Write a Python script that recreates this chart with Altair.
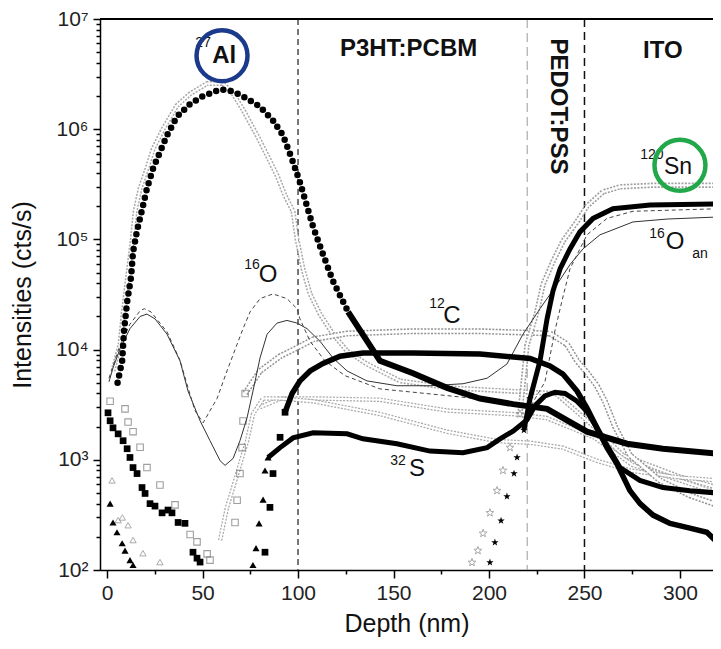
import altair as alt
import pandas as pd

# ---------------- data (depth in nm, intensity in cts/s) ----------------
# 27Al  (filled circles)
al_x = [5.5, 7.9, 8.9, 10.5, 12.6, 13.6, 15.7, 17.8, 20.9, 24.1, 27.7, 31.4, 36.6, 43.5, 50.3,
        59.2, 66.0, 73.3, 80.1, 86.9, 92.1, 96.9, 101.0, 104.7, 107.9, 112.6, 118.3, 126.2,
        136.1, 142.9, 160.2, 178.0, 195.3, 212.6, 230.4, 251.3, 272.3, 291.1, 319.4]
al_y = [5.0e3, 7.9e3, 1.5e4, 2.7e4, 4.6e4, 7.7e4, 1.2e5, 1.7e5, 2.9e5, 4.4e5, 6.2e5, 8.8e5,
        1.3e6, 1.7e6, 2.0e6, 2.3e6, 2.2e6, 1.9e6, 1.6e6, 1.2e6, 8.8e5, 5.3e5, 3.3e5, 2.0e5,
        1.3e5, 7.7e4, 4.2e4, 2.2e4, 1.2e4, 7.9e3, 6.1e3, 4.5e3, 3.6e3, 3.2e3, 2.9e3, 1.8e3,
        1.4e3, 1.26e3, 1.14e3]

# hollow (open triangle) Al-related trace
g1_x = [3.1, 6.8, 8.4, 10.5, 13.1, 14.7, 17.3, 20.9, 24.1, 29.3, 36.6, 43.5, 52.4, 60.7, 66.0,
        71.2, 78.5, 83.8, 89.0, 93.2, 97.4, 99.5, 102.6, 106.3, 111.5, 118.3, 125.7, 136.1,
        153.4, 179.6, 210.0, 235.0, 255.0, 270.0, 300.0, 319.4]
g1_y = [6.4e3, 1.12e4, 2.1e4, 4.2e4, 9.6e4, 1.8e5, 2.9e5, 4.4e5, 6.6e5, 1.0e6, 1.64e6, 2.1e6,
        2.6e6, 2.6e6, 2.1e6, 1.5e6, 8.8e5, 5.8e5, 3.8e5, 2.5e5, 1.8e5, 1.0e5, 5.4e4, 3.2e4,
        2.1e4, 1.38e4, 9.7e3, 7.4e3, 5.2e3, 4.5e3, 4.2e3, 4.0e3, 2.0e3, 1.1e3, 700, 560]

# middle grey trace
g2_x = [80.0, 91.0, 110.0, 143.0, 178.0, 212.0, 230.0, 255.0, 275.0, 300.0, 319.4]
g2_y = [3.0e3, 3.6e3, 3.6e3, 3.5e3, 2.8e3, 2.6e3, 2.4e3, 1.6e3, 900, 650, 500]

# lower grey trace
g4_x = [59.2, 62.8, 66.0, 73.3, 76.4, 81.7, 90.6, 107.9, 142.9, 178.0, 204.2, 221.5, 238.7,
        256.5, 273.8, 300.0, 319.4]
g4_y = [186, 370, 560, 1.48e3, 2.6e3, 3.6e3, 3.6e3, 3.4e3, 2.6e3, 1.8e3, 1.48e3, 1.43e3,
        1.29e3, 980, 800, 690, 650]

# filled squares (plateau species)
sq_x = [0.5, 1.6, 3.1, 5.8, 8.4, 10.5, 12.0, 13.6, 15.7, 18.3, 19.9, 22.5, 25.1, 28.8, 31.9,
        34.0, 37.2, 40.8, 45.0, 47.1, 48.7,
        82.7, 85.3, 86.9, 90.6, 93.2, 96.9, 101.0, 106.3, 113.1, 122.0, 134.0, 160.2, 195.3,
        221.5, 231.9, 238.7, 246.1, 251.3, 256.5, 261.8, 267.0, 273.8, 279.1, 285.9, 294.8,
        305.2, 314.1, 318.3]
sq_y = [2.67e3, 2.26e3, 1.95e3, 1.72e3, 1.49e3, 1.26e3, 1.05e3, 850, 750, 560, 495, 400, 380,
        330, 350, 330, 270, 265, 145, 128, 118,
        145, 370, 750, 1.6e3, 2.7e3, 4.0e3, 5.2e3, 6.4e3, 7.5e3, 8.7e3, 9.3e3, 9.3e3, 9.1e3,
        8.3e3, 7.1e3, 6.0e3, 4.2e3, 2.95e3, 1.95e3, 1.29e3, 920, 525, 400, 315, 265, 240, 220,
        187]

# 32S (filled triangles)
s_x = [1.6, 3.1, 5.2, 7.9, 9.4, 12.0, 13.6, 76.4, 78.0, 79.6, 81.7, 82.7, 84.3, 90.6, 97.4,
       107.9, 125.7, 134.0, 151.8, 169.1, 186.4, 199.0, 205.8, 212.6, 219.9, 224.1, 229.3,
       234.6, 239.8, 246.1, 251.3, 256.5, 261.8, 268.6, 279.0, 291.1, 305.2, 319.4]
s_y = [400, 270, 220, 175, 150, 123, 111, 111, 158, 265, 435, 800, 1.05e3, 1.29e3, 1.58e3,
       1.76e3, 1.72e3, 1.55e3, 1.4e3, 1.2e3, 1.16e3, 1.29e3, 1.55e3, 1.82e3, 2.3e3, 3.1e3,
       3.8e3, 4.1e3, 4.0e3, 3.4e3, 2.75e3, 1.95e3, 1.35e3, 850, 650, 560, 525, 500]

# 12C (open squares)
c_x = [1.6, 9.4, 11.0, 13.6, 17.3, 20.9, 27.7, 35.6, 43.5, 47.1, 52.4, 53.9,
       67.0, 68.1, 69.6, 70.7, 71.2, 72.3, 80.1, 90.6, 101.0, 107.9, 125.7, 160.2, 195.3,
       231.9, 240.8, 246.1, 251.3, 256.5, 260.7, 266.0, 273.8, 289.5, 305.2, 319.4]
c_y = [3.4e3, 2.9e3, 2.2e3, 1.8e3, 1.3e3, 850, 590, 390, 210, 180, 140, 123,
       270, 430, 750, 1.29e3, 2.25e3, 4.0e3, 6.4e3, 8.7e3, 1.07e4, 1.24e4, 1.4e4, 1.47e4,
       1.47e4, 1.4e4, 1.12e4, 7.9e3, 6.2e3, 4.7e3, 3.4e3, 2.0e3, 1.1e3, 650, 475, 390]

# 16O (solid line)
o_x = [1.0, 3.1, 6.8, 12.0, 17.3, 20.9, 25.1, 31.4, 38.2, 42.4, 48.7, 53.9, 59.2, 61.8, 66.0,
       69.6, 73.3, 76.4, 80.1, 83.8, 89.0, 94.2, 99.5, 104.7, 111.5, 118.3, 125.7, 136.1,
       151.8, 169.1, 186.4, 199.0, 209.4, 217.8, 226.7, 235.6, 242.4, 249.2, 258.1, 275.4,
       293.2, 320.9]
o_y = [5.1e3, 6.8e3, 1.02e4, 1.55e4, 2.0e4, 2.1e4, 1.9e4, 1.38e4, 7.9e3, 4.2e3, 2.26e3,
       1.49e3, 980, 890, 1.03e3, 1.49e3, 2.4e3, 4.2e3, 8.4e3, 1.38e4, 1.74e4, 1.84e4, 1.74e4,
       1.55e4, 1.19e4, 8.4e3, 6.4e3, 5.2e3, 4.7e3, 4.7e3, 4.9e3, 5.5e3, 7.4e3, 1.38e4,
       2.35e4, 3.9e4, 5.9e4, 8.2e4, 1.1e5, 1.44e5, 1.53e5, 1.6e5]

# second oxygen trace (dashed line)
od_x = [1.0, 6.8, 12.0, 17.3, 19.5, 23.0, 31.4, 38.2, 42.4, 46.0, 50.3, 57.6, 62.8, 68.1,
        71.2, 74.9, 80.1, 86.9, 94.2, 99.5, 101.0, 106.3, 114.1, 124.6, 142.9, 179.6, 205.8,
        222.0, 229.3, 234.6, 238.7, 242.4, 251.3, 261.8, 275.4, 320.9]
od_y = [5.5e3, 1.1e4, 1.7e4, 2.25e4, 2.35e4, 2.2e4, 1.45e4, 8.0e3, 4.5e3, 2.8e3, 2.17e3,
        3.6e3, 6.4e3, 1.12e4, 1.55e4, 2.2e4, 2.9e4, 3.2e4, 2.9e4, 2.35e4, 1.9e4, 1.19e4,
        7.9e3, 5.8e3, 4.4e3, 3.8e3, 3.4e3, 3.1e3, 5.1e3, 1.5e4, 3.0e4, 5.4e4, 1.1e5, 1.55e5,
        1.8e5, 1.9e5]

# 120Sn (filled stars)
sn_x = [200.5, 203.1, 206.3, 209.4, 213.1, 214.7, 218.3, 221.5, 226.7, 230.4, 233.5, 237.2,
        242.4, 247.6, 254.5, 264.9, 284.3, 319.4]
sn_y = [117, 178, 280, 465, 750, 1.05e3, 1.86e3, 3.6e3, 7.9e3, 1.9e4, 3.4e4, 5.4e4, 8.2e4,
        1.17e5, 1.55e5, 1.9e5, 2.05e5, 2.1e5]

# open stars
st_x = [191.1, 194.2, 196.9, 200.5, 204.2, 207.3, 211.0, 216.2, 219.9, 225.1, 228.3, 233.5,
        238.7, 246.1, 251.3, 259.7, 268.6, 285.9, 319.4]
st_y = [117, 150, 215, 330, 525, 800, 1.29e3, 2.6e3, 1.1e4, 2.2e4, 3.9e4, 6.3e4, 9.6e4,
        1.45e5, 2.0e5, 2.7e5, 3.0e5, 3.1e5, 3.1e5]

# open triangles near the surface
tr_x = [2.6, 5.8, 8.0, 11.0, 13.6, 18.8, 27.7]
tr_y = [650, 284, 300, 255, 187, 142, 118]

# layer boundaries
boundary_x = [100, 220, 250]

# tick values
x_ticks = list(range(0, 325, 25))
y_ticks = [k * 10 ** e for e in range(2, 7) for k in range(1, 10)] + [10 ** 7]

# ---------------- helpers ----------------
W, H = 613, 551
FONT = "Liberation Sans"
xs = alt.Scale(domain=[-3.7, 317.3], nice=False, zero=False)
ys = alt.Scale(type="log", domain=[100, 1e7], nice=False)

sup = {2: "²", 3: "³", 4: "⁴", 5: "⁵", 6: "⁶", 7: "⁷"}
y_label_expr = " : ".join(
    f"datum.value == {10 ** e} ? '10{s}'" for e, s in sup.items()) + " : ''"

xaxis = alt.Axis(values=x_ticks, labelExpr="datum.value % 50 === 0 ? datum.label : ''",
                 tickSize={"condition": {"test": "datum.value % 50 === 0", "value": 8}, "value": 4},
                 grid=False, title="Depth (nm)", labelPadding=4, titlePadding=8)
yaxis = alt.Axis(values=y_ticks, labelExpr=y_label_expr,
                 tickSize={"condition": {"test": "indexof([100,1000,10000,100000,1000000,10000000], datum.value) >= 0",
                                         "value": 7}, "value": 4},
                 grid=False, title="Intensities (cts/s)", labelPadding=5, titlePadding=20)

X = alt.X("x:Q", scale=xs, axis=xaxis)
Y = alt.Y("y:Q", scale=ys, axis=yaxis)


def frame(xv, yv):
    return pd.DataFrame({"x": xv, "y": yv})


def sub(xv, yv, lo=-1e9, hi=1e9):
    d = frame(xv, yv)
    return d[(d.x >= lo) & (d.x <= hi)]


def hollow(d, outer=5, inner=2.2, color="#a8a8a8"):
    a = alt.Chart(d).mark_line(color=color, strokeWidth=outer, strokeDash=[2, 1.4],
                               clip=True).encode(x=X, y=Y)
    b = alt.Chart(d).mark_line(color="white", strokeWidth=inner, clip=True).encode(x=X, y=Y)
    return [a, b]


STAR = ("M0,-1L0.235,-0.324L0.951,-0.309L0.38,0.124L0.588,0.809L0,0.4L-0.588,0.809"
        "L-0.38,0.124L-0.951,-0.309L-0.235,-0.324Z")

layers = []

# boundaries
bd = pd.DataFrame({"x": boundary_x})
layers.append(alt.Chart(bd[bd.x == 100]).mark_rule(color="#6a6a6a", strokeWidth=1.8,
                                                    strokeDash=[6, 4]).encode(x=X))
layers.append(alt.Chart(bd[bd.x == 220]).mark_rule(color="#9a9a9a", strokeWidth=1,
                                                    strokeDash=[9, 5]).encode(x=X))
layers.append(alt.Chart(bd[bd.x == 250]).mark_rule(color="#111", strokeWidth=1.5,
                                                    strokeDash=[8, 5]).encode(x=X))

# grey hollow traces
layers += hollow(frame(g1_x, g1_y), outer=5, inner=2)
layers += hollow(frame(g2_x, g2_y), outer=4.5, inner=2)
layers += hollow(frame(g4_x, g4_y), outer=4.5, inner=2)
layers += hollow(sub(c_x, c_y, lo=72), outer=6, inner=3, color="#929292")
layers += hollow(sub(st_x, st_y, lo=216), outer=5.5, inner=2.2, color="#a0a0a0")

# open markers
layers.append(alt.Chart(sub(c_x, c_y, hi=72.5)).mark_point(
    shape="square", size=42, color="#777", strokeWidth=1.1, filled=False, clip=True).encode(x=X, y=Y))
layers.append(alt.Chart(sub(st_x, st_y, hi=217)).mark_point(
    shape=STAR, size=70, color="#888", strokeWidth=1, filled=False, clip=True).encode(x=X, y=Y))
layers.append(alt.Chart(frame(tr_x, tr_y)).mark_point(
    shape="triangle-up", size=40, color="#888", strokeWidth=1, filled=False, clip=True).encode(x=X, y=Y))

# oxygen lines
layers.append(alt.Chart(frame(o_x, o_y)).mark_line(color="#333", strokeWidth=1,
                                                   clip=True).encode(x=X, y=Y))
layers.append(alt.Chart(frame(od_x, od_y)).mark_line(color="#444", strokeWidth=1,
                                                     strokeDash=[4, 3], clip=True).encode(x=X, y=Y))

# 27Al: dotted circles, thick where the markers merge
layers.append(alt.Chart(sub(al_x, al_y, hi=130)).mark_line(
    color="black", strokeWidth=6.5, strokeDash=[0, 7.5], strokeCap="round", clip=True).encode(x=X, y=Y))
layers.append(alt.Chart(sub(al_x, al_y, lo=125)).mark_line(
    color="black", strokeWidth=6, clip=True).encode(x=X, y=Y))

# filled squares
layers.append(alt.Chart(sub(sq_x, sq_y, hi=95)).mark_point(
    shape="square", size=45, color="black", filled=True, opacity=1, clip=True).encode(x=X, y=Y))
layers.append(alt.Chart(sub(sq_x, sq_y, lo=93)).mark_line(
    color="black", strokeWidth=5.5, clip=True).encode(x=X, y=Y))

# 32S filled triangles
layers.append(alt.Chart(sub(s_x, s_y, hi=85)).mark_point(
    shape="triangle-up", size=50, color="black", filled=True, opacity=1, clip=True).encode(x=X, y=Y))
layers.append(alt.Chart(sub(s_x, s_y, lo=84)).mark_line(
    color="black", strokeWidth=5, clip=True).encode(x=X, y=Y))

# 120Sn filled stars
layers.append(alt.Chart(sub(sn_x, sn_y, hi=222)).mark_point(
    shape=STAR, size=60, color="black", filled=True, opacity=1, clip=True).encode(x=X, y=Y))
layers.append(alt.Chart(sub(sn_x, sn_y, lo=218)).mark_line(
    color="black", strokeWidth=5, clip=True).encode(x=X, y=Y))

# top frame line
layers.append(alt.Chart(pd.DataFrame({"a": [0]})).mark_rule(color="black", strokeWidth=1.8).encode(
    x=alt.value(0), x2=alt.value(W), y=alt.value(0)))

# ---------------- annotations ----------------
def label(txt, x, y, size, weight="normal", angle=0, color="#111"):
    d = pd.DataFrame({"x": [x], "y": [y], "t": [txt]})
    return alt.Chart(d).mark_text(font=FONT, fontSize=size, fontWeight=weight, angle=angle,
                                  color=color, align="center", baseline="middle").encode(
        x=X, y=Y, text="t:N")


def ring(x, y, color):
    d = pd.DataFrame({"x": [x], "y": [y]})
    return alt.Chart(d).mark_point(shape="circle", size=2600, filled=False, color=color,
                                   strokeWidth=4.5, opacity=1).encode(x=X, y=Y)


layers += [
    label("P3HT:PCBM", 157.9, 5.35e6, 24, "bold"),
    label("ITO", 291.0, 5.14e6, 24, "bold"),
    label("PEDOT:PSS", 236.1, 1.61e6, 24, "bold", angle=90),
    label("27", 50.3, 6.07e6, 14),
    label("Al", 61.3, 4.64e6, 24, "bold"),
    ring(60.2, 4.64e6, "#1b3a8c"),
    label("120", 285.3, 5.8e5, 14),
    label("Sn", 299.0, 4.5e5, 23),
    ring(300.0, 4.7e5, "#22a84a"),
    label("16", 75.9, 5.9e4, 14),
    label("O", 84.3, 4.8e4, 24),
    label("12", 172.8, 2.57e4, 14),
    label("C", 180.6, 2.0e4, 24),
    label("32", 152.4, 985, 14),
    label("S", 162.3, 830, 24),
    label("16", 288.0, 1.12e5, 14),
    label("O", 297.4, 9.5e4, 24),
    label("an", 310.5, 7.3e4, 14),
]

chart = alt.layer(*layers).properties(
    width=W, height=H, autosize="none",
    padding={"left": 92, "top": 11, "right": 0, "bottom": 76},
).configure_view(stroke=None).configure_axis(
    domainColor="black", domainWidth=1.5, tickColor="black", tickWidth=1.5,
    labelFont=FONT, labelFontSize=21, labelColor="#222",
    titleFont=FONT, titleFontSize=25, titleFontWeight="normal", titleColor="#111",
)

chart.save("out.html", embed_options={"renderer": "svg", "actions": False})
